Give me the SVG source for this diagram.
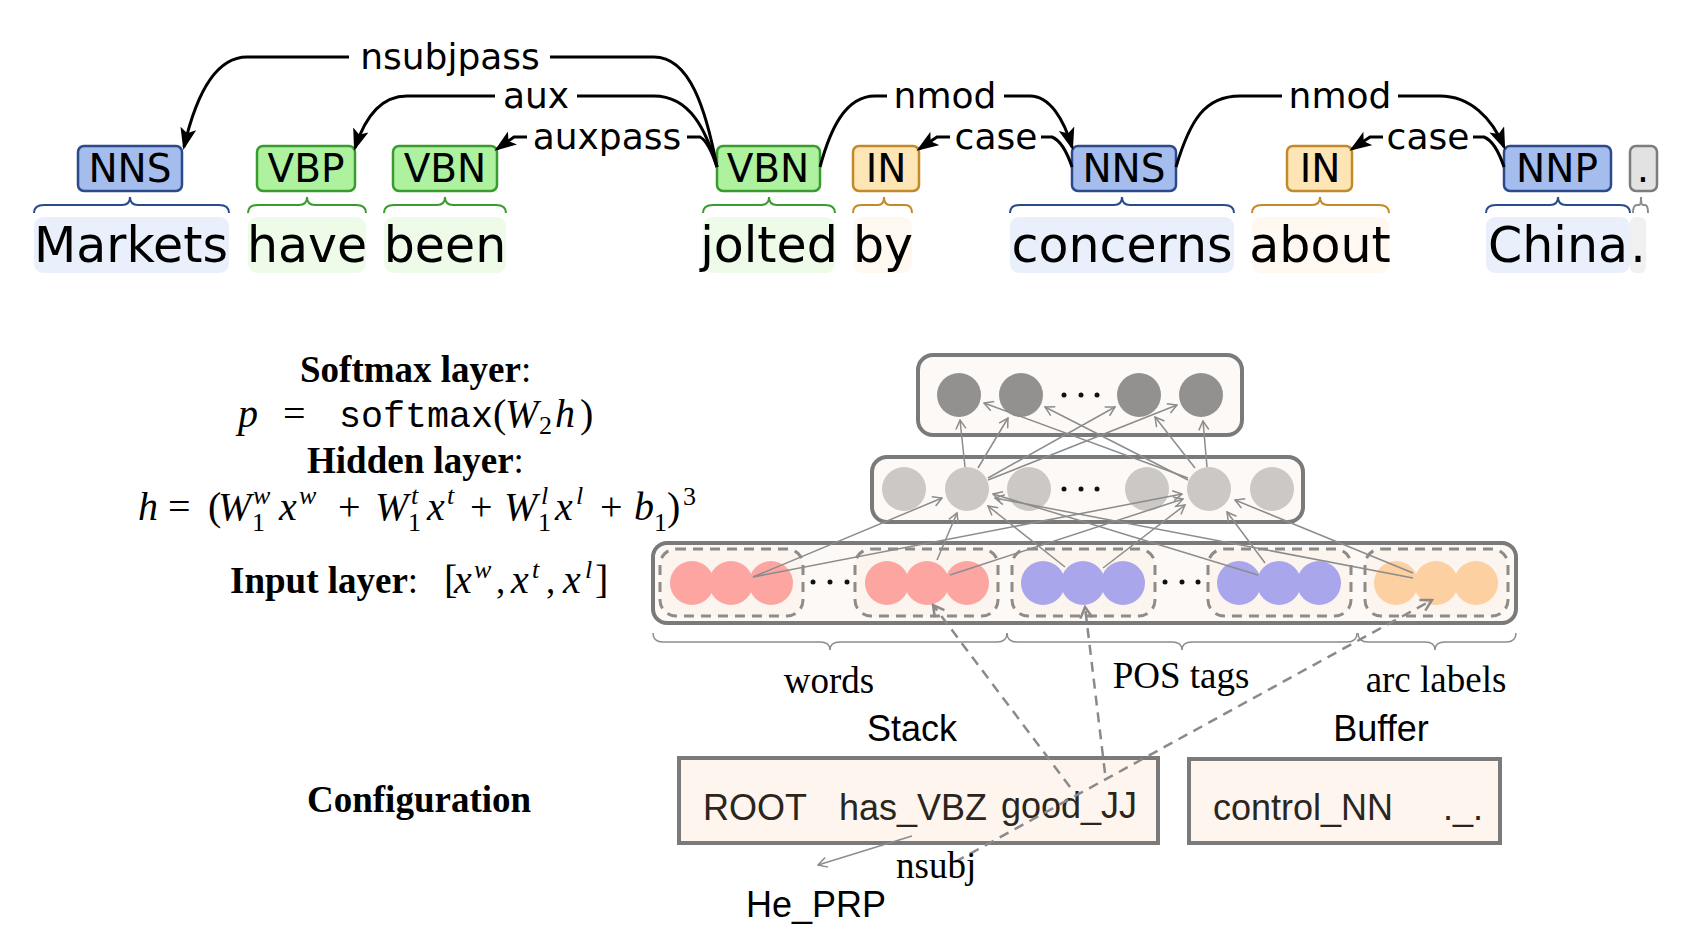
<svg xmlns="http://www.w3.org/2000/svg" width="1708" height="940" viewBox="0 0 1708 940">
<style>
.arc{fill:none;stroke:#000;stroke-width:3;marker-end:url(#ah)}
.arcn{fill:none;stroke:#000;stroke-width:3}
.al{font-family:"DejaVu Sans",sans-serif;font-size:36px;text-anchor:middle;fill:#000}
.tagt{font-family:"DejaVu Sans",sans-serif;font-size:39px;text-anchor:middle;fill:#000}
.word{font-family:"DejaVu Sans",sans-serif;font-size:49px;text-anchor:middle;fill:#000}
.br{fill:none;stroke-width:2}
.tb{fill:#a5bdec;stroke:#2b4a8b;stroke-width:2.5}
.tg{fill:#aef2a0;stroke:#3a9c2e;stroke-width:2.5}
.to{fill:#fde5b5;stroke:#c38a2a;stroke-width:2.5}
.tz{fill:#e2e2e2;stroke:#7c7c7c;stroke-width:2.5}
.wb{fill:#eaf0fb}.wg{fill:#eefbe9}.wo{fill:#fff8f0}.wz{fill:#f0f0f0}
.net{stroke:#8c8c8c;stroke-width:1.5;fill:none;marker-end:url(#oa)}
.dash{stroke:#8a8a8a;stroke-width:2.5;stroke-dasharray:10 7;fill:none;marker-end:url(#oad)}
.box{fill:#fdf9f6;stroke:#7a7a7a;stroke-width:4}
.grp{fill:#fcf4ee;stroke:#8f8b87;stroke-width:3;stroke-dasharray:10 7}
.cs{fill:#939090}.ch{fill:#cbc8c5}.cw{fill:#fca5a1}.cp{fill:#aaa6ec}.ca{fill:#fdd0a2}
.dot{fill:#111}
.gb{fill:none;stroke:#8c8c8c;stroke-width:1.5}
.ser{font-family:"Liberation Serif",serif;font-size:37px;fill:#000}
.it{font-style:italic;font-size:40px}
.op{font-size:40px}
.sm{font-size:26px}
.bd{font-weight:bold}
.sans{font-family:"Liberation Sans",sans-serif;font-size:36px;fill:#2b2520}
.cfg{fill:#fdf5ee;stroke:#7a7a7a;stroke-width:4}
</style>
<defs>
<marker id="ah" markerUnits="userSpaceOnUse" markerWidth="22" markerHeight="16" viewBox="0 0 22 16" refX="19" refY="8" orient="auto"><path d="M0,0 L22,8 L0,16 L5,8 z" fill="#000"/></marker>
<marker id="oa" markerUnits="userSpaceOnUse" markerWidth="12" markerHeight="12" viewBox="0 0 12 12" refX="11" refY="6" orient="auto"><path d="M2,1 L11,6 L2,11" fill="none" stroke="#8c8c8c" stroke-width="1.5"/></marker>
<marker id="oad" markerUnits="userSpaceOnUse" markerWidth="16" markerHeight="16" viewBox="0 0 16 16" refX="14" refY="8" orient="auto"><path d="M3,2 L14,8 L3,14" fill="none" stroke="#8a8a8a" stroke-width="2.5"/></marker>
</defs>
<rect width="1708" height="940" fill="#fff"/>

<!-- Tokens -->
<g id="tok-markets">
<rect class="tb" x="78" y="146" width="104" height="45" rx="6"/>
<text class="tagt" x="130" y="182">NNS</text>
<path class="br" stroke="#2b4a8b" d="M34 213 Q34 205 44 205 L122 205 Q130 205 130 197 Q130 205 138 205 L219 205 Q229 205 229 213"/>
<rect class="wb" x="34" y="217" width="195" height="56" rx="9"/>
<text class="word" x="131" y="262">Markets</text>
</g>
<g id="tok-have">
<rect class="tg" x="257" y="146" width="98" height="45" rx="6"/>
<text class="tagt" x="306" y="182">VBP</text>
<path class="br" stroke="#3a9c2e" d="M248 213 Q248 205 258 205 L299 205 Q307 205 307 197 Q307 205 315 205 L356 205 Q366 205 366 213"/>
<rect class="wg" x="248" y="217" width="118" height="56" rx="9"/>
<text class="word" x="307" y="262">have</text>
</g>
<g id="tok-been">
<rect class="tg" x="393" y="146" width="104" height="45" rx="6"/>
<text class="tagt" x="445" y="182">VBN</text>
<path class="br" stroke="#3a9c2e" d="M384 213 Q384 205 394 205 L437 205 Q445 205 445 197 Q445 205 453 205 L496 205 Q506 205 506 213"/>
<rect class="wg" x="384" y="217" width="122" height="56" rx="9"/>
<text class="word" x="445" y="262">been</text>
</g>
<g id="tok-jolted">
<rect class="tg" x="717" y="146" width="103" height="45" rx="6"/>
<text class="tagt" x="768" y="182">VBN</text>
<path class="br" stroke="#3a9c2e" d="M703 213 Q703 205 713 205 L761 205 Q769 205 769 197 Q769 205 777 205 L825 205 Q835 205 835 213"/>
<rect class="wg" x="703" y="217" width="132" height="56" rx="9"/>
<text class="word" x="769" y="262">jolted</text>
</g>
<g id="tok-by">
<rect class="to" x="853" y="146" width="66" height="45" rx="6"/>
<text class="tagt" x="886" y="182">IN</text>
<path class="br" stroke="#c38a2a" d="M853 213 Q853 205 861 205 L878 205 Q884 205 884 197 Q884 205 890 205 L905 205 Q912 205 912 213"/>
<rect class="wo" x="853" y="217" width="59" height="56" rx="9"/>
<text class="word" x="883" y="262">by</text>
</g>
<g id="tok-concerns">
<rect class="tb" x="1072" y="146" width="104" height="45" rx="6"/>
<text class="tagt" x="1124" y="182">NNS</text>
<path class="br" stroke="#2b4a8b" d="M1010 213 Q1010 205 1020 205 L1114 205 Q1122 205 1122 197 Q1122 205 1130 205 L1224 205 Q1234 205 1234 213"/>
<rect class="wb" x="1010" y="217" width="224" height="56" rx="9"/>
<text class="word" x="1122" y="262">concerns</text>
</g>
<g id="tok-about">
<rect class="to" x="1287" y="146" width="65" height="45" rx="6"/>
<text class="tagt" x="1320" y="182">IN</text>
<path class="br" stroke="#c38a2a" d="M1252 213 Q1252 205 1262 205 L1312 205 Q1320 205 1320 197 Q1320 205 1328 205 L1379 205 Q1389 205 1389 213"/>
<rect class="wo" x="1252" y="217" width="137" height="56" rx="9"/>
<text class="word" x="1320" y="262">about</text>
</g>
<g id="tok-china">
<rect class="tb" x="1504" y="146" width="107" height="45" rx="6"/>
<text class="tagt" x="1557" y="182">NNP</text>
<path class="br" stroke="#2b4a8b" d="M1486 213 Q1486 205 1496 205 L1550 205 Q1558 205 1558 197 Q1558 205 1566 205 L1620 205 Q1630 205 1630 213"/>
<rect class="wb" x="1486" y="217" width="144" height="56" rx="9"/>
<text class="word" x="1558" y="262">China</text>
</g>
<g id="tok-period">
<rect class="tz" x="1630" y="146" width="27" height="45" rx="6"/>
<text class="tagt" x="1643" y="182">.</text>
<path class="br" stroke="#8c8c8c" d="M1633 213 Q1633 205 1637 205 L1639 205 Q1641 205 1641 197 Q1641 205 1643 205 L1645 205 Q1648 205 1648 213"/>
<rect class="wz" x="1630" y="217" width="16" height="56" rx="6"/>
<text class="word" x="1638" y="262">.</text>
</g>

<!-- Formula texts -->
<g id="softmax-label">
<text class="ser bd" x="300" y="382">Softmax layer<tspan font-weight="normal">:</tspan></text>
<text class="ser it" x="238" y="427">p</text>
<text class="ser op" x="283" y="427">=</text>
<text x="339" y="427" font-family="Liberation Mono, monospace" font-size="36.7px">softmax</text>
<text class="ser op" x="493" y="427">(</text>
<text class="ser it" x="505" y="427">W</text>
<text class="ser sm" x="539" y="434">2</text>
<text class="ser it" x="555" y="427">h</text>
<text class="ser op" x="580" y="427">)</text>
</g>
<g id="hidden-label">
<text class="ser bd" x="307" y="473">Hidden layer<tspan font-weight="normal">:</tspan></text>
<text class="ser it" x="138" y="520">h</text>
<text class="ser op" x="168" y="520">=</text>
<text class="ser op" x="208" y="520">(</text>
<text class="ser it" x="218" y="520">W</text>
<text class="ser it sm" x="253" y="504">w</text>
<text class="ser sm" x="252" y="531">1</text>
<text class="ser it" x="279" y="520">x</text>
<text class="ser it sm" x="299" y="504">w</text>
<text class="ser op" x="338" y="520">+</text>
<text class="ser it" x="375" y="520">W</text>
<text class="ser it sm" x="411" y="504">t</text>
<text class="ser sm" x="408" y="531">1</text>
<text class="ser it" x="427" y="520">x</text>
<text class="ser it sm" x="447" y="504">t</text>
<text class="ser op" x="470" y="520">+</text>
<text class="ser it" x="504" y="520">W</text>
<text class="ser it sm" x="541" y="504">l</text>
<text class="ser sm" x="538" y="531">1</text>
<text class="ser it" x="555" y="520">x</text>
<text class="ser it sm" x="576" y="504">l</text>
<text class="ser op" x="600" y="520">+</text>
<text class="ser it" x="634" y="520">b</text>
<text class="ser sm" x="654" y="531">1</text>
<text class="ser op" x="667" y="520">)</text>
<text class="ser sm" x="683" y="505">3</text>
</g>
<g id="input-label">
<text class="ser bd" x="230" y="593">Input layer<tspan font-weight="normal">:</tspan></text>
<text class="ser op" x="444" y="593">[</text>
<text class="ser it" x="454" y="593">x</text>
<text class="ser it sm" x="474" y="578">w</text>
<text class="ser" x="496" y="593">,</text>
<text class="ser it" x="511" y="593">x</text>
<text class="ser it sm" x="532" y="578">t</text>
<text class="ser" x="546" y="593">,</text>
<text class="ser it" x="563" y="593">x</text>
<text class="ser it sm" x="585" y="578">l</text>
<text class="ser op" x="595" y="593">]</text>
</g>
<g id="config-label">
<text class="ser bd" x="307" y="812">Configuration</text>
</g>

<!-- Network layers -->
<g id="softmax-layer">
<rect class="box" x="918" y="355" width="324" height="80" rx="15"/>
<circle class="cs" cx="959" cy="395" r="22"/>
<circle class="cs" cx="1021" cy="395" r="22"/>
<circle class="cs" cx="1139" cy="395" r="22"/>
<circle class="cs" cx="1201" cy="395" r="22"/>
<circle class="dot" cx="1064" cy="395" r="2.5"/><circle class="dot" cx="1081" cy="395" r="2.5"/><circle class="dot" cx="1097" cy="395" r="2.5"/>
</g>
<g id="hidden-layer">
<rect class="box" x="872" y="457" width="431" height="65" rx="15"/>
<circle class="ch" cx="904" cy="489" r="22"/>
<circle class="ch" cx="967" cy="489" r="22"/>
<circle class="ch" cx="1029" cy="489" r="22"/>
<circle class="ch" cx="1147" cy="489" r="22"/>
<circle class="ch" cx="1209" cy="489" r="22"/>
<circle class="ch" cx="1272" cy="489" r="22"/>
<circle class="dot" cx="1064" cy="489" r="2.5"/><circle class="dot" cx="1081" cy="489" r="2.5"/><circle class="dot" cx="1097" cy="489" r="2.5"/>
</g>
<g id="input-layer">
<rect class="box" x="653" y="543" width="863" height="80" rx="14"/>
<rect class="grp" x="660" y="549" width="143" height="67" rx="16"/>
<rect class="grp" x="855" y="549" width="143" height="67" rx="16"/>
<rect class="grp" x="1012" y="549" width="143" height="67" rx="16"/>
<rect class="grp" x="1208" y="549" width="143" height="67" rx="16"/>
<rect class="grp" x="1365" y="549" width="143" height="67" rx="16"/>
<circle class="cw" cx="692" cy="583" r="22"/><circle class="cw" cx="731" cy="583" r="22"/><circle class="cw" cx="771" cy="583" r="22"/>
<circle class="cw" cx="887" cy="583" r="22"/><circle class="cw" cx="927" cy="583" r="22"/><circle class="cw" cx="967" cy="583" r="22"/>
<circle class="cp" cx="1043" cy="583" r="22"/><circle class="cp" cx="1083" cy="583" r="22"/><circle class="cp" cx="1123" cy="583" r="22"/>
<circle class="cp" cx="1239" cy="583" r="22"/><circle class="cp" cx="1279" cy="583" r="22"/><circle class="cp" cx="1319" cy="583" r="22"/>
<circle class="ca" cx="1396" cy="583" r="22"/><circle class="ca" cx="1436" cy="583" r="22"/><circle class="ca" cx="1476" cy="583" r="22"/>
<circle class="dot" cx="813" cy="582" r="2.5"/><circle class="dot" cx="830" cy="582" r="2.5"/><circle class="dot" cx="847" cy="582" r="2.5"/>
<circle class="dot" cx="1165" cy="582" r="2.5"/><circle class="dot" cx="1182" cy="582" r="2.5"/><circle class="dot" cx="1198" cy="582" r="2.5"/>
<path class="gb" d="M653 633 Q653 642 663 642 L820 642 Q830 642 830 650 Q830 642 840 642 L997 642 Q1007 642 1007 633"/>
<path class="gb" d="M1007 633 Q1007 642 1017 642 L1172 642 Q1182 642 1182 650 Q1182 642 1192 642 L1347 642 Q1357 642 1357 633"/>
<path class="gb" d="M1358 633 Q1358 642 1368 642 L1425 642 Q1435 642 1435 650 Q1435 642 1445 642 L1506 642 Q1516 642 1516 633"/>
<text class="ser" x="829" y="693" text-anchor="middle" font-size="36">words</text>
<text class="ser" x="1181" y="688" text-anchor="middle" font-size="36">POS tags</text>
<text class="ser" x="1436" y="692" text-anchor="middle" font-size="36">arc labels</text>
</g>

<!-- Configuration -->
<g id="stack">
<text class="sans" x="912" y="741" text-anchor="middle" style="fill:#000">Stack</text>
<rect class="cfg" x="679" y="758" width="479" height="85"/>
<text class="sans" x="703" y="820">ROOT</text>
<text class="sans" x="839" y="820">has_VBZ</text>
<text class="sans" x="1001" y="818">good_JJ</text>
</g>
<g id="buffer">
<text class="sans" x="1381" y="741" text-anchor="middle" style="fill:#000">Buffer</text>
<rect class="cfg" x="1189" y="759" width="311" height="84"/>
<text class="sans" x="1213" y="820">control_NN</text>
<text class="sans" x="1443" y="820">._.</text>
</g>
<g id="he-prp">
<text class="sans" x="746" y="917" font-size="35px" style="fill:#000">He_PRP</text>
</g>

<!-- Connectors -->
<g id="connectors">
<path class="arc" d="M349 57 L247 57 C215 57 196 95 184 147"/>
<path class="arcn" d="M550 57 L654 57 C690 57 706 110 717 167"/>
<text class="al" x="450" y="69">nsubjpass</text>
<path class="arc" d="M495 96 L407 96 C380 96 364 120 355 148"/>
<path class="arcn" d="M577 96 L654 96 C690 96 706 130 717 167"/>
<text class="al" x="536" y="108">aux</text>
<path class="arc" d="M527 137 L514 137 L497 149"/>
<path class="arcn" d="M687 137 L700 137 C708 141 713 155 717 167"/>
<text class="al" x="607" y="149">auxpass</text>
<path class="arcn" d="M820 167 C830 130 845 96 875 96 L887 96"/>
<path class="arc" d="M1004 96 L1030 96 C1050 96 1064 120 1072 147"/>
<text class="al" x="945" y="108">nmod</text>
<path class="arc" d="M950 137 L937 137 L919 149"/>
<path class="arcn" d="M1041 137 L1052 137 C1062 141 1068 155 1072 167"/>
<text class="al" x="996" y="149">case</text>
<path class="arcn" d="M1176 167 C1190 120 1205 96 1240 96 L1282 96"/>
<path class="arc" d="M1398 96 L1440 96 C1470 96 1492 118 1504 147"/>
<text class="al" x="1340" y="108">nmod</text>
<path class="arc" d="M1383 137 L1370 137 L1352 149"/>
<path class="arcn" d="M1473 137 L1484 137 C1494 141 1500 155 1504 167"/>
<text class="al" x="1428" y="149">case</text>

<path class="net" d="M965 467 L960 420"/>
<path class="net" d="M978 468 L1008 418"/>
<path class="net" d="M988 478 L1115 407"/>
<path class="net" d="M988 480 L1177 405"/>
<path class="net" d="M1188 478 L984 403"/>
<path class="net" d="M1188 480 L1045 407"/>
<path class="net" d="M1195 468 L1155 417"/>
<path class="net" d="M1207 467 L1203 421"/>
<path class="net" d="M753 577 L942 498"/>
<path class="net" d="M753 577 L1182 494"/>
<path class="net" d="M937 560 L957 513"/>
<path class="net" d="M950 575 L1183 499"/>
<path class="net" d="M1065 567 L988 506"/>
<path class="net" d="M1103 568 L1185 505"/>
<path class="net" d="M1258 575 L993 494"/>
<path class="net" d="M1265 563 L1227 512"/>
<path class="net" d="M1413 578 L995 498"/>
<path class="net" d="M1413 573 L1235 500"/>

<path class="dash" d="M1070 787 L933 605"/>
<path class="dash" d="M1105 773 L1085 607"/>
<path class="dash" d="M955 862 L1432 600"/>

<path class="net" d="M912 836 L818 865"/>
<text class="ser" x="896" y="878" font-size="36">nsubj</text>
</g>
</svg>
